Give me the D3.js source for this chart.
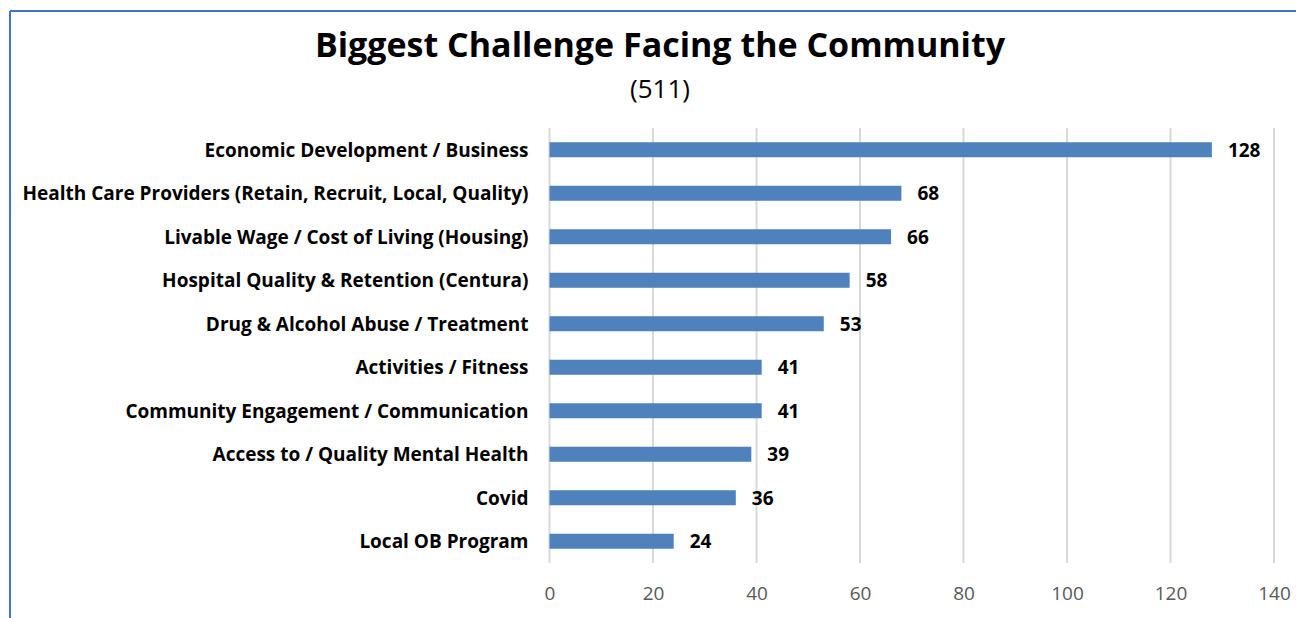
<!DOCTYPE html>
<html><head><meta charset="utf-8">
<script src="https://cdn.jsdelivr.net/npm/d3@7"></script>
<style>html,body{margin:0;padding:0;background:#fff;overflow:hidden}</style>
</head><body>
<svg id="chart" width="1296" height="618"></svg>
<script>
const categories = [
  "Economic Development / Business",
  "Health Care Providers (Retain, Recruit, Local, Quality)",
  "Livable Wage / Cost of Living (Housing)",
  "Hospital Quality & Retention (Centura)",
  "Drug & Alcohol Abuse / Treatment",
  "Activities / Fitness",
  "Community Engagement / Communication",
  "Access to / Quality Mental Health",
  "Covid",
  "Local OB Program"
];
const values = [128, 68, 66, 58, 53, 41, 41, 39, 36, 24];
const tickValues = [0, 20, 40, 60, 80, 100, 120, 140];
const titleText = "Biggest Challenge Facing the Community";
const subtitleText = "(511)";

const svg = d3.select("#chart");
const font = "'Open Sans', sans-serif";

// frame
svg.append("line").attr("x1", 10).attr("x2", 1296).attr("y1", 11).attr("y2", 11)
  .attr("stroke", "#4472C4").attr("stroke-width", 2);
svg.append("line").attr("x1", 10).attr("x2", 10).attr("y1", 11).attr("y2", 618)
  .attr("stroke", "#4472C4").attr("stroke-width", 2);

const x = d3.scaleLinear().domain([0, 140]).range([549.5, 1274]);
const y = d3.scaleBand().domain(categories).range([128, 563]).paddingInner(0.655).paddingOuter(0.3275);

// gridlines
svg.append("g").selectAll("line").data(tickValues).join("line")
  .attr("x1", d => x(d)).attr("x2", d => x(d))
  .attr("y1", 128).attr("y2", 563)
  .attr("stroke", "#d9d9d9").attr("stroke-width", 2);

// tick labels
const xAxis = d3.axisBottom(x).tickValues(tickValues).tickSize(0).tickPadding(0);
const gx = svg.append("g").attr("transform", "translate(0,586)").call(xAxis);
gx.select(".domain").remove();
gx.selectAll("text").attr("font-family", font).attr("font-size", 19).attr("fill", "#595959").attr("dy", "0.71em");

// bars
svg.append("g").selectAll("rect").data(values).join("rect")
  .attr("x", x(0))
  .attr("y", (d, i) => y(categories[i]))
  .attr("width", d => x(d) - x(0))
  .attr("height", y.bandwidth())
  .attr("fill", "#4F81BD");

// value labels
svg.append("g").selectAll("text").data(values).join("text")
  .attr("x", d => x(d) + 16)
  .attr("y", (d, i) => y(categories[i]) + y.bandwidth() / 2)
  .attr("dy", "0.36em")
  .attr("font-family", font).attr("font-weight", "bold").attr("font-size", 19)
  .attr("fill", "#000").text(d => d);

// category labels
const yAxis = d3.axisLeft(y).tickSize(0).tickPadding(21);
const gy = svg.append("g").attr("transform", `translate(${x(0)},0)`).call(yAxis);
gy.select(".domain").remove();
gy.selectAll("text").attr("font-family", font).attr("font-weight", "bold").attr("font-size", 19).attr("fill", "#000").attr("dy", "0.36em");

// title
svg.append("text").attr("x", 660).attr("y", 57).attr("text-anchor", "middle")
  .attr("font-family", font).attr("font-weight", "bold").attr("font-size", 34)
  .attr("fill", "#000").text(titleText);
svg.append("text").attr("x", 660).attr("y", 98).attr("text-anchor", "middle")
  .attr("font-family", font).attr("font-size", 26)
  .attr("fill", "#000").text(subtitleText);
</script>
</body></html>
